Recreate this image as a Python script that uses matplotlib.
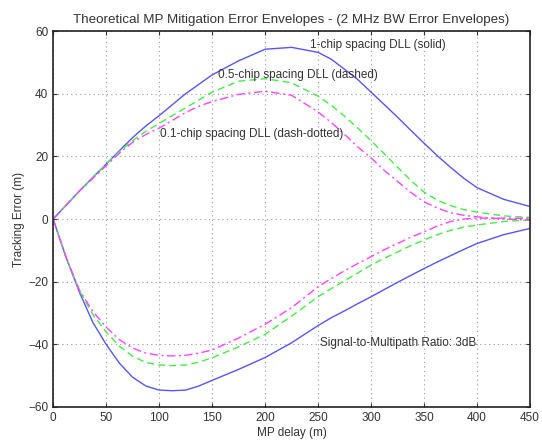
import matplotlib
matplotlib.use("Agg")
import matplotlib.pyplot as plt

plt.rcParams['font.family'] = ['Liberation Sans', 'DejaVu Sans']

# Multipath delay samples (m)
mp_delay = [0, 5, 12.5, 25, 37.5, 50, 62.5, 75, 87.5, 100, 112.5, 125, 137.5,
            150, 175, 200, 225, 250, 262.5, 275, 287.5, 300, 312.5, 325,
            337.5, 350, 362.5, 375, 387.5, 400, 425, 450]

# Upper / lower error envelopes (m), 1-chip spacing DLL
upper_1chip = [0, 1.8, 4.5, 9, 13.3, 17.5, 21.8, 26, 29.7, 33, 36.5, 40, 43,
               46, 50.5, 54.2, 54.8, 53.2, 51, 47.8, 44.5, 40.5, 36.5, 32.5,
               28.3, 24.2, 20.2, 16.5, 13, 10, 6.3, 4]
lower_1chip = [0, -5, -12.5, -23.5, -33, -40, -46, -50.5, -53.3, -54.6,
               -54.8, -54.6, -53.3, -51.5, -48, -44.2, -39.5, -34, -31.5,
               -29.3, -27, -24.8, -22.5, -20.2, -18, -15.8, -13.7, -11.7,
               -9.7, -7.8, -5, -3]

# 0.5-chip spacing DLL
upper_05chip = [0, 1.8, 4.5, 9, 13.3, 17.5, 21.5, 25, 28, 30.5, 33, 35.5, 38,
                40.5, 44, 44.8, 43.5, 39.2, 36.3, 32.8, 29, 25, 20.8, 16.5,
                12.3, 8.6, 6, 4.3, 3, 2.2, 1, 0.5]
lower_05chip = [0, -5, -12.5, -23, -30.5, -36, -40.6, -43.8, -45.8, -46.6,
                -46.8, -46.6, -45.7, -44.3, -40.8, -36.8, -31, -24.8, -22.2,
                -19.7, -17.2, -14.7, -12.5, -10.5, -8.5, -6.7, -5, -3.6, -2.6,
                -1.9, -0.8, -0.3]

# 0.1-chip spacing DLL
upper_01chip = [0, 1.8, 4.5, 9, 13, 17, 21, 24.5, 27, 29, 31.5, 34, 36, 37.5,
                39.8, 40.8, 39.5, 34.2, 30.8, 27, 23, 19.5, 15.5, 12, 8.5,
                5.5, 3.5, 2, 1.2, 0.7, 0, -0.3]
lower_01chip = [0, -5, -12.5, -22.8, -29.5, -34.5, -38.5, -41.2, -42.8,
                -43.5, -43.7, -43.5, -42.8, -41.8, -38, -33.6, -28.3, -21.6,
                -19, -16.5, -14.2, -12, -9.8, -7.8, -5.8, -4.1, -2.2, -0.8, 0,
                0.3, 0.3, 0.2]

x_ticks = [0, 50, 100, 150, 200, 250, 300, 350, 400, 450]
y_ticks = [-60, -40, -20, 0, 20, 40, 60]

fig = plt.figure(figsize=(5.42, 4.47), dpi=100)
ax = fig.add_axes([0.098, 0.0895, 0.88, 0.841])

blue = '#5555ff'
green = '#44ee44'
magenta = '#ff44ff'

ax.plot(mp_delay, upper_1chip, '-', color=blue, lw=1.0)
ax.plot(mp_delay, lower_1chip, '-', color=blue, lw=1.0)
ax.plot(mp_delay, upper_05chip, '--', color=green, lw=1.0, dashes=(5, 3))
ax.plot(mp_delay, lower_05chip, '--', color=green, lw=1.0, dashes=(5, 3))
ax.plot(mp_delay, upper_01chip, '-.', color=magenta, lw=1.0,
        dashes=(6, 2.5, 1.5, 2.5))
ax.plot(mp_delay, lower_01chip, '-.', color=magenta, lw=1.0,
        dashes=(6, 2.5, 1.5, 2.5))

ax.set_xlim(0, 450)
ax.set_ylim(-60, 60)
ax.set_xticks(x_ticks)
ax.set_yticks(y_ticks)
ax.tick_params(direction='in', top=True, right=True, length=3, width=0.8,
               labelsize=8.5, colors='#333333')
ax.grid(True, linestyle=(0, (1, 3)), color='#999999', linewidth=0.8)
for s in ax.spines.values():
    s.set_linewidth(1.2)
    s.set_color('#222222')

fs = 8.5
txt = '#333333'
ax.text(242, 55.5, '1-chip spacing DLL (solid)', fontsize=fs, va='center', color=txt)
ax.text(156, 46, '0.5-chip spacing DLL (dashed)', fontsize=fs, va='center', color=txt)
ax.text(101, 27, '0.1-chip spacing DLL (dash-dotted)', fontsize=fs, va='center', color=txt)
ax.text(252, -39.6, 'Signal-to-Multipath Ratio: 3dB', fontsize=fs, va='center', color=txt)

ax.set_title('Theoretical MP Mitigation Error Envelopes - (2 MHz BW Error Envelopes)',
             fontsize=9.6, color=txt, pad=6)
ax.set_xlabel('MP delay (m)', fontsize=8.5, color=txt, labelpad=2)
ax.set_ylabel('Tracking Error (m)', fontsize=8.5, color=txt, labelpad=2)

fig.savefig('out.png', dpi=100)
